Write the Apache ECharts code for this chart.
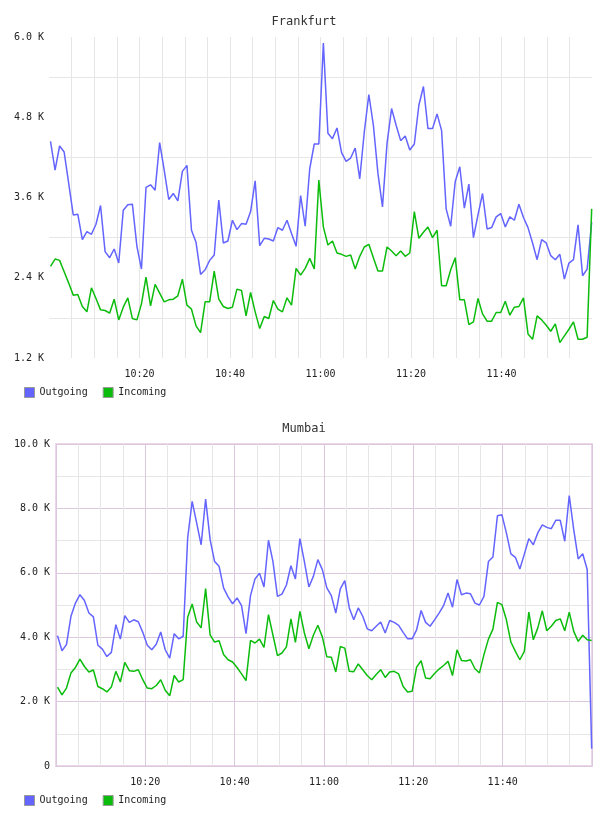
<!DOCTYPE html>
<html>
<head>
<meta charset="utf-8">
<title>Traffic</title>
<script src="https://cdn.jsdelivr.net/npm/echarts@6/dist/echarts.min.js"></script>
<style>
  html, body { margin: 0; padding: 0; background: #fff; }
  .chart { width: 608px; height: 408px; }
</style>
</head>
<body>
<div id="frankfurt" class="chart"></div>
<div id="mumbai" class="chart"></div>
<script>
// samples: one every ~60s starting 10:00:20 (values in K)
const sampleStartSec = 20
const sampleStepSec = 60.3

const frankfurtOutgoing = [
  4.44, 4.01, 4.37, 4.28, 3.81, 3.34, 3.35, 2.97, 3.09, 3.05,
  3.20, 3.48, 2.79, 2.70, 2.83, 2.62, 3.41, 3.49, 3.50, 2.87,
  2.53, 3.75, 3.79, 3.71, 4.42, 4.01, 3.57, 3.66, 3.55, 3.99,
  4.08, 3.11, 2.93, 2.45, 2.52, 2.66, 2.74, 3.56, 2.92, 2.95,
  3.26, 3.12, 3.21, 3.20, 3.39, 3.85, 2.88, 2.99, 2.98, 2.95,
  3.15, 3.11, 3.26, 3.06, 2.87, 3.63, 3.17, 4.03, 4.40, 4.40,
  5.91, 4.56, 4.48, 4.64, 4.27, 4.14, 4.19, 4.34, 3.88, 4.58,
  5.14, 4.68, 3.96, 3.46, 4.41, 4.93, 4.68, 4.45, 4.52, 4.31,
  4.40, 4.98, 5.26, 4.63, 4.63, 4.85, 4.60, 3.43, 3.17, 3.84,
  4.06, 3.44, 3.80, 3.00, 3.34, 3.66, 3.13, 3.15, 3.31, 3.36,
  3.16, 3.31, 3.26, 3.50, 3.30, 3.15, 2.92, 2.67, 2.97, 2.92,
  2.73, 2.67, 2.75, 2.38, 2.62, 2.67, 3.19, 2.43, 2.53, 3.23
]
const frankfurtIncoming = [
  2.57, 2.68, 2.66, 2.49, 2.32, 2.14, 2.15, 1.97, 1.89, 2.25,
  2.09, 1.92, 1.91, 1.87, 2.08, 1.77, 1.96, 2.10, 1.79, 1.77,
  2.01, 2.41, 1.98, 2.30, 2.17, 2.04, 2.07, 2.08, 2.13, 2.38,
  1.99, 1.93, 1.68, 1.58, 2.04, 2.04, 2.50, 2.08, 1.97, 1.94,
  1.96, 2.23, 2.21, 1.83, 2.18, 1.89, 1.64, 1.82, 1.79, 2.06,
  1.93, 1.89, 2.10, 1.99, 2.54, 2.44, 2.54, 2.69, 2.53, 3.86,
  3.16, 2.89, 2.95, 2.77, 2.75, 2.72, 2.74, 2.53, 2.72, 2.86,
  2.90, 2.70, 2.50, 2.50, 2.86, 2.80, 2.73, 2.80, 2.72, 2.77,
  3.39, 2.99, 3.08, 3.16, 3.00, 3.11, 2.28, 2.28, 2.52, 2.70,
  2.07, 2.07, 1.70, 1.74, 2.09, 1.86, 1.75, 1.75, 1.88, 1.88,
  2.05, 1.84, 1.96, 1.97, 2.10, 1.56, 1.48, 1.83, 1.77, 1.69,
  1.60, 1.71, 1.43, 1.53, 1.63, 1.74, 1.48, 1.48, 1.51, 3.43
]
const mumbaiOutgoing = [
  4.05, 3.58, 3.77, 4.65, 5.06, 5.32, 5.14, 4.75, 4.63, 3.75,
  3.63, 3.40, 3.53, 4.39, 3.94, 4.67, 4.46, 4.54, 4.48, 4.15,
  3.75, 3.61, 3.78, 4.16, 3.61, 3.35, 4.11, 3.95, 4.03, 7.08,
  8.22, 7.55, 6.87, 8.29, 7.03, 6.35, 6.20, 5.53, 5.25, 5.04,
  5.22, 4.98, 4.11, 5.29, 5.81, 5.99, 5.56, 7.01, 6.35, 5.27,
  5.34, 5.62, 6.22, 5.81, 7.06, 6.35, 5.56, 5.89, 6.41, 6.10,
  5.53, 5.29, 4.75, 5.50, 5.76, 4.91, 4.54, 4.91, 4.65, 4.26,
  4.20, 4.34, 4.47, 4.13, 4.52, 4.46, 4.37, 4.15, 3.95, 3.95,
  4.23, 4.83, 4.46, 4.34, 4.54, 4.75, 4.98, 5.37, 4.93, 5.79,
  5.32, 5.37, 5.35, 5.06, 5.00, 5.27, 6.35, 6.49, 7.77, 7.80,
  7.24, 6.59, 6.48, 6.12, 6.58, 7.06, 6.87, 7.24, 7.49, 7.41,
  7.37, 7.63, 7.63, 6.98, 8.40, 7.34, 6.43, 6.59, 6.10, 0.54
]
const mumbaiIncoming = [
  2.45, 2.21, 2.42, 2.89, 3.06, 3.32, 3.09, 2.92, 2.98, 2.47,
  2.40, 2.30, 2.45, 2.94, 2.61, 3.22, 2.96, 2.94, 2.99, 2.68,
  2.42, 2.40, 2.50, 2.68, 2.35, 2.18, 2.81, 2.61, 2.68, 4.62,
  5.03, 4.47, 4.29, 5.51, 4.07, 3.85, 3.89, 3.46, 3.30, 3.23,
  3.06, 2.86, 2.65, 3.90, 3.82, 3.94, 3.68, 4.70, 4.06, 3.43,
  3.51, 3.70, 4.57, 3.84, 4.80, 4.13, 3.64, 4.06, 4.37, 4.01,
  3.39, 3.38, 2.92, 3.71, 3.66, 2.94, 2.93, 3.17, 2.99, 2.81,
  2.68, 2.84, 2.99, 2.75, 2.92, 2.94, 2.86, 2.47, 2.30, 2.32,
  3.07, 3.27, 2.73, 2.71, 2.87, 3.01, 3.12, 3.25, 2.81, 3.61,
  3.28, 3.26, 3.30, 3.02, 2.89, 3.46, 3.94, 4.25, 5.08, 5.01,
  4.54, 3.85, 3.56, 3.30, 3.56, 4.78, 3.92, 4.29, 4.82, 4.20,
  4.34, 4.52, 4.57, 4.20, 4.78, 4.18, 3.87, 4.06, 3.92, 3.90
]

const FONT = 'DejaVu Sans Mono'
const BLUE = '#6464ff'
const GREEN = '#0cbc0c'
const GRID_GRAY = '#e6e6e6'
const GRID_PURPLE = '#dcc8dc'

// minutes after 10:00 for sample i
const minuteOf = i => (sampleStartSec + i * sampleStepSec) / 60

const toPairs = values => values.map((v, i) => [minuteOf(i), v])

const timeLabel = v => {
  if (v <= 0 || v >= 120 || v % 20 !== 0) return ''
  const h = 10 + Math.floor(v / 60)
  const m = v % 60
  return h + ':' + String(m).padStart(2, '0')
}

const buildOption = cfg => ({
  animation: false,
  title: {
    text: cfg.title,
    left: 'center',
    top: cfg.titleTop,
    textStyle: { fontFamily: FONT, fontSize: 12, fontWeight: 'normal', color: '#333' }
  },
  legend: {
    data: ['Outgoing', 'Incoming'],
    left: 24,
    top: 387,
    padding: 0,
    icon: 'rect',
    itemWidth: 10,
    itemHeight: 10,
    itemGap: 15,
    itemStyle: { borderColor: '#999', borderWidth: 1 },
    textStyle: { fontFamily: FONT, fontSize: 10, color: '#222' }
  },
  grid: cfg.grid,
  xAxis: {
    type: 'value',
    min: 0,
    max: 120,
    interval: 5,
    axisLine: { show: false },
    axisTick: { show: false },
    axisLabel: {
      margin: 11,
      fontFamily: FONT,
      fontSize: 10,
      color: '#222',
      formatter: timeLabel
    },
    splitLine: cfg.xSplit
  },
  yAxis: {
    type: 'value',
    min: cfg.yMin,
    max: cfg.yMax,
    interval: cfg.yInterval,
    axisLine: { show: false },
    axisTick: { show: false },
    axisLabel: {
      margin: cfg.yLabelMargin,
      fontFamily: FONT,
      fontSize: 10,
      color: '#222',
      formatter: cfg.yLabel
    },
    splitLine: cfg.ySplit
  },
  series: [
    {
      name: 'Outgoing',
      type: 'line',
      data: toPairs(cfg.outgoing),
      showSymbol: false,
      itemStyle: { color: BLUE },
      lineStyle: { color: BLUE, width: 1.5 }
    },
    {
      name: 'Incoming',
      type: 'line',
      data: toPairs(cfg.incoming),
      showSymbol: false,
      itemStyle: { color: GREEN },
      lineStyle: { color: GREEN, width: 1.5 }
    }
  ]
})

const isMultiple = (v, step) => Math.abs(v / step - Math.round(v / step)) < 1e-6

const frankfurtChart = echarts.init(document.getElementById('frankfurt'))
frankfurtChart.setOption(buildOption({
  title: 'Frankfurt',
  titleTop: 11,
  grid: { left: 49, top: 37, width: 543, height: 321 },
  outgoing: frankfurtOutgoing,
  incoming: frankfurtIncoming,
  yMin: 1.2,
  yMax: 6.0,
  yInterval: 0.6,
  yLabelMargin: 5,
  yLabel: v => (isMultiple(v, 1.2) ? v.toFixed(1) + ' K' : ''),
  xSplit: {
    show: true,
    showMinLine: false,
    showMaxLine: false,
    lineStyle: { color: GRID_GRAY, width: 1 }
  },
  ySplit: {
    show: true,
    // only the half-way lines are drawn
    lineStyle: { color: ['rgba(0,0,0,0)', GRID_GRAY], width: 1 }
  }
}))

const mumbaiChart = echarts.init(document.getElementById('mumbai'))
mumbaiChart.setOption(buildOption({
  title: 'Mumbai',
  titleTop: 10,
  grid: {
    left: 56, top: 36, width: 536, height: 322,
    show: true, borderColor: '#ead8ea', borderWidth: 2
  },
  outgoing: mumbaiOutgoing,
  incoming: mumbaiIncoming,
  yMin: 0,
  yMax: 10,
  yInterval: 1,
  yLabelMargin: 6,
  yLabel: v => (v === 0 ? '0' : (v % 2 === 0 ? v.toFixed(1) + ' K' : '')),
  xSplit: {
    show: true,
    lineStyle: { color: [GRID_PURPLE, GRID_GRAY, GRID_GRAY, GRID_GRAY], width: 1 }
  },
  ySplit: {
    show: true,
    lineStyle: { color: [GRID_PURPLE, GRID_GRAY], width: 1 }
  }
}))

window.addEventListener('resize', () => {
  frankfurtChart.resize()
  mumbaiChart.resize()
})
</script>
</body>
</html>
